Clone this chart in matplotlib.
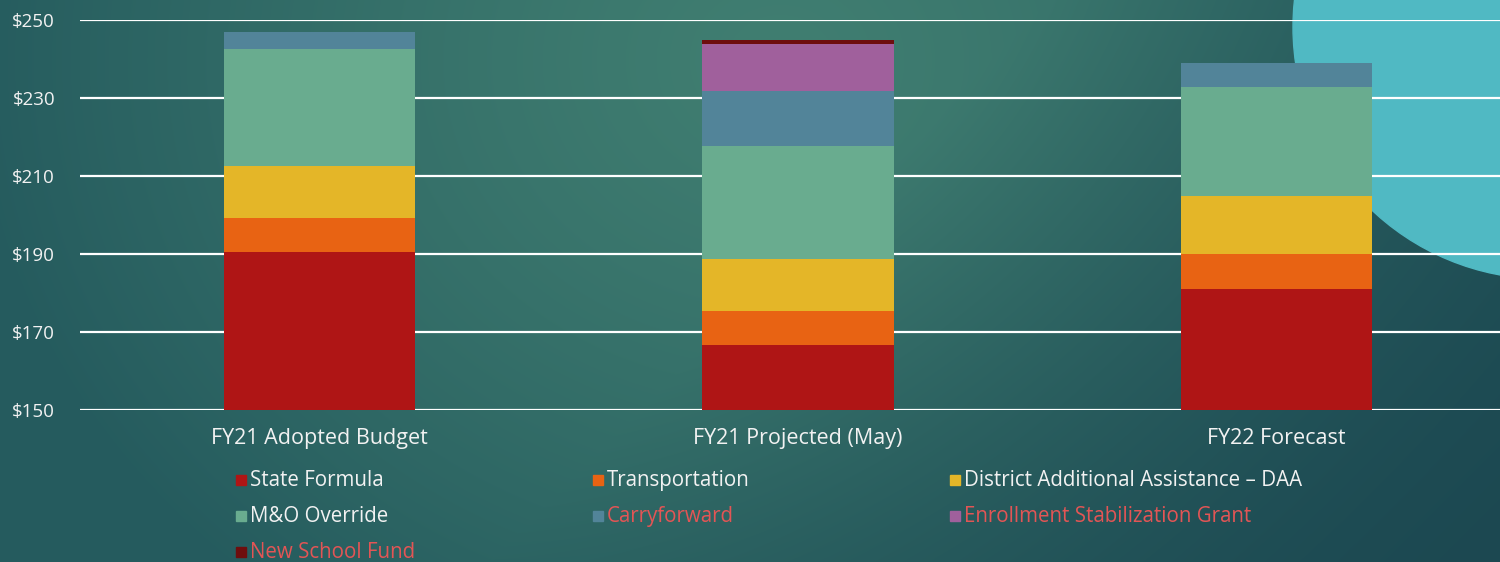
import matplotlib.pyplot as plt
import numpy as np
from matplotlib.patches import Circle, Rectangle

plt.rcParams['font.family'] = ['Open Sans', 'DejaVu Sans']

categories = ["FY21 Adopted Budget", "FY21 Projected (May)", "FY22 Forecast"]
series_names = ["State Formula", "Transportation", "District Additional Assistance \u2013 DAA",
                "M&O Override", "Carryforward", "Enrollment Stabilization Grant",
                "New School Fund"]
state_formula = [190.5, 166.6, 180.9]
transportation = [8.7, 8.7, 9.0]
daa = [13.4, 13.3, 15.1]
mo_override = [29.9, 29.1, 27.8]
carryforward = [4.3, 14.1, 6.2]
enrollment_grant = [0.0, 12.0, 0.0]
new_school_fund = [0.0, 1.1, 0.0]
series_values = [state_formula, transportation, daa, mo_override,
                 carryforward, enrollment_grant, new_school_fund]
colors = ["#AF1515", "#E86313", "#E4B628", "#69AC8F", "#528499", "#A0609C", "#6E0E0E"]
label_colors = ["#F2F2F2", "#F2F2F2", "#F2F2F2", "#F2F2F2", "#E35555", "#E35555", "#E35555"]
y_ticks = [150, 170, 190, 210, 230, 250]

W, H = 1500, 562
fig = plt.figure(figsize=(W / 100, H / 100), dpi=100)

# background gradient + circle
bg = fig.add_axes([0, 0, 1, 1], zorder=0)
yy, xx = np.mgrid[0:H, 0:W]
d = np.sqrt(((xx - 780) / 820.0) ** 2 + ((yy - 60) / 700.0) ** 2)
d = np.clip(d, 0, 1)[..., None] ** 1.3
light = np.array([0x40, 0x7E, 0x71]) / 255.0
edge = np.array([0x25, 0x5B, 0x5E]) / 255.0
darkest = np.array([0x1C, 0x48, 0x51]) / 255.0
img = light * (1 - d) + edge * d
t = np.clip((xx - 900) / 600.0 * 0.6 + (yy - 150) / 400.0 * 0.4, 0, 1)[..., None]
img = img * (1 - t) + darkest * t
bg.imshow(img, extent=[0, W, H, 0], aspect='auto')
bg.add_patch(Circle((1545, 27), 252, color="#50B9C3", zorder=2))
bg.set_xlim(0, W)
bg.set_ylim(H, 0)
bg.axis('off')

# main chart
ax = fig.add_axes([80 / W, 152 / H, 1436 / W, 390 / H], zorder=1)
ax.patch.set_alpha(0)
x = np.arange(len(categories))
bottom = np.zeros(len(categories))
for vals, c in zip(series_values, colors):
    ax.bar(x, vals, width=0.4, bottom=bottom, color=c, zorder=3)
    bottom += np.array(vals)

ax.set_xlim(-0.5, 2.5)
ax.set_ylim(150, 250)
ax.set_yticks(y_ticks)
ax.set_yticklabels([f"${v}" for v in y_ticks])
ax.set_xticks(x)
ax.set_xticklabels(categories)
ax.tick_params(axis='y', length=0, pad=18, labelsize=13.5, labelcolor="#F2F2F2")
ax.tick_params(axis='x', length=0, pad=13, labelsize=15.5, labelcolor="#F2F2F2")
ax.yaxis.grid(True, color="white", linewidth=1.6, zorder=1)
for s in ax.spines.values():
    s.set_visible(False)

# legend, 3 per row
for i, (name, c, tc) in enumerate(zip(series_names, colors, label_colors)):
    col, row = i % 3, i // 3
    px = 236 + col * 357
    py = 480 + row * 36
    bg.add_patch(Rectangle((px, py - 5), 10, 10, color=c, zorder=3))
    bg.text(px + 14, py + 6, name, color=tc, fontsize=14.8, va='baseline', ha='left', zorder=3)

fig.savefig("out.png", dpi=100)
